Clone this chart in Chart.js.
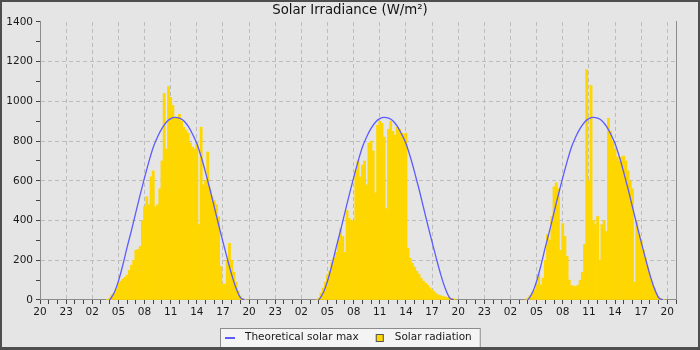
<!DOCTYPE html>
<html><head><meta charset="utf-8">
<script src="https://cdn.jsdelivr.net/npm/chart.js@4.4.1/dist/chart.umd.min.js"></script>
<style>html,body{margin:0;padding:0;background:#e5e5e5}canvas{display:block}</style>
</head><body>
<canvas id="c" width="700" height="350"></canvas>
<script>
// ---- data ----
const titleText = 'Solar Irradiance (W/m²)';
const seriesNames = ['Theoretical solar max', 'Solar radiation'];
// x axis: hours since 20:00 on the evening before day 1
const xTickLabels = ['20','23','02','05','08','11','14','17','20','23','02','05','08','11','14','17','20','23','02','05','08','11','14','17','20'];
const dayMidnights = [4, 28, 52];          // hour position of 00:00 of each day
// solar radiation, 15-minute slots from 03:45 to 19:45 each day (W/m²)
const radSlotStart = 3.75, radSlotStep = 0.25;
const radDay1 = [3,10,25,35,55, 85,95,105,115, 125,150,175,200, 250,255,270,400, 470,520,480,620, 650,470,480,560, 700,1040,760,1075, 1020,980,920,920, 935,900,870,855, 840,790,770,760, 800,380,870,580, 600,745,560,520, 500,480,420,170, 80,80,200,285, 200,140,90,45, 20,8,4,0];
const radDay2 = [0,10,35,60,90, 125,145,190,210, 240,300,360,320, 240,450,410,400, 400,650,700,620, 680,700,580,790, 800,750,540,880, 900,890,820,460, 860,900,850,830, 870,860,840,835, 840,260,210,185, 165,145,130,110, 95,85,75,62, 52,42,32,25, 22,18,15,13, 10,8,6,0];
const radDay3 = [0,10,22,40,50, 75,130,75,110, 200,330,300,420, 570,590,560,250, 385,320,220,100, 72,70,68,75, 100,140,280,1160, 600,1080,400,380, 420,200,380,400, 345,915,850,800, 760,720,700,720, 725,700,650,600, 560,90,400,330, 300,250,210,165, 125,90,60,35, 18,8,3,0];
// theoretical solar max, 30-minute points from 04:00 to 19:30 (same each day)
const maxSlotStart = 4.0, maxSlotStep = 0.5;
const theoMax = [0,35,95,175,266,351,441,531,616,697,769,822,864,895,913,920,916,903,875,836,788,721,643,559,469,379,293,208,128,60,12,0];

// ---- build library data ----
const barPoints = [];
[radDay1, radDay2, radDay3].forEach((arr, d) => {
  arr.forEach((v, i) => barPoints.push({x: dayMidnights[d] + radSlotStart + i * radSlotStep, y: v}));
});
const linePoints = [];
dayMidnights.forEach((m, d) => {
  theoMax.forEach((v, i) => linePoints.push({x: m + maxSlotStart + i * maxSlotStep, y: v}));
  if (d < dayMidnights.length - 1) linePoints.push({x: m + 22, y: null});
});

const FONT = 'DejaVu Sans';
const decor = {
  id: 'decor',
  beforeDraw(chart) {
    const {ctx, width, height} = chart;
    ctx.save(); ctx.fillStyle = '#e5e5e5'; ctx.fillRect(0, 0, width, height); ctx.restore();
  },
  afterDraw(chart) {
    const {ctx} = chart;
    ctx.save();
    // legend
    ctx.font = '10.5px "' + FONT + '"';
    const ds = chart.data.datasets;
    const w1 = ctx.measureText(ds[0].label).width, w2 = ctx.measureText(ds[1].label).width;
    const total = 70 + w1 + w2;
    const L = Math.round(350 - total / 2), T = 328, H = 19;
    ctx.fillStyle = '#f4f4f4'; ctx.fillRect(L, T, total, H);
    ctx.strokeStyle = '#8c8c8c'; ctx.lineWidth = 1; ctx.strokeRect(L + 0.5, T + 0.5, total - 1, H);
    const cy = T + 10;
    ctx.strokeStyle = ds[0].borderColor; ctx.lineWidth = 2;
    ctx.beginPath(); ctx.moveTo(L + 5, cy); ctx.lineTo(L + 15, cy); ctx.stroke();
    ctx.fillStyle = '#1a1a1a'; ctx.textBaseline = 'middle'; ctx.textAlign = 'left';
    ctx.fillText(ds[0].label, L + 25, cy - 0.5);
    const sx = L + 25 + w1 + 17;
    ctx.fillStyle = ds[1].backgroundColor; ctx.fillRect(sx, cy - 4, 8, 8);
    ctx.strokeStyle = '#555'; ctx.lineWidth = 1; ctx.strokeRect(sx + 0.5, cy - 3.5, 7, 7);
    ctx.fillStyle = '#1a1a1a';
    ctx.fillText(ds[1].label, sx + 19, cy - 0.5);
    // outer frame
    ctx.fillStyle = '#4e4e4e';
    ctx.fillRect(0, 0, 700, 2); ctx.fillRect(0, 0, 2, 350); ctx.fillRect(698, 0, 2, 350); ctx.fillRect(0, 347, 700, 3);
    ctx.restore();
  }
};

new Chart(document.getElementById('c'), {
  type: 'bar',
  data: {
    datasets: [
      {type: 'line', label: seriesNames[0], data: linePoints, borderColor: '#5c5cff', borderWidth: 1.3,
       pointRadius: 0, spanGaps: false, cubicInterpolationMode: 'monotone', fill: false},
      {type: 'bar', label: seriesNames[1], data: barPoints, backgroundColor: '#ffd700', borderWidth: 0,
       barPercentage: 1, categoryPercentage: 1}
    ]
  },
  options: {
    responsive: false, animation: false, devicePixelRatio: 1,
    layout: {padding: 0},
    plugins: {
      legend: {display: false}, tooltip: {enabled: false},
      title: {display: true, text: titleText, color: '#111',
              font: {family: FONT, size: 13.3, weight: 'normal', lineHeight: 1.2}, padding: {top: 3, bottom: 3}}
    },
    scales: {
      x: {
        type: 'linear', min: 0, max: 73, offset: false,
        afterFit: s => { s.height = 50; },
        afterBuildTicks: s => { s.ticks = Array.from({length: 74}, (_, i) => ({value: i})); },
        ticks: {autoSkip: false, maxRotation: 0, minRotation: 0, color: '#1a1a1a', padding: 2,
                font: {family: FONT, size: 10.5},
                callback: v => (v % 3 === 0 ? xTickLabels[v / 3] : '')},
        grid: {offset: false,
               color: c => (c.tick && c.tick.value % 3 === 0 && c.tick.value > 0 ? '#bcbcbc' : 'rgba(0,0,0,0)'),
               tickColor: '#444', tickLength: 4, lineWidth: 1},
        border: {color: '#8c8c8c', width: 1, dash: [4, 3]}
      },
      y: {
        min: 0, max: 1400,
        afterFit: s => { s.width = 40; },
        afterBuildTicks: s => { s.ticks = Array.from({length: 15}, (_, i) => ({value: i * 100})); },
        ticks: {color: '#1a1a1a', padding: 3, font: {family: FONT, size: 10.5},
                callback: v => (v % 200 === 0 ? String(v) : '')},
        grid: {color: c => (c.tick && c.tick.value % 200 === 0 && c.tick.value > 0 && c.tick.value < 1400 ? '#bcbcbc' : 'rgba(0,0,0,0)'),
               tickColor: '#444', tickLength: 4, lineWidth: 1},
        border: {color: '#8c8c8c', width: 1, dash: [4, 3]}
      },
      yRight: {
        position: 'right', min: 0, max: 1400,
        afterFit: s => { s.width = 24; },
        ticks: {display: false},
        grid: {display: false, drawTicks: false},
        border: {display: true, color: '#8c8c8c', width: 1}
      }
    }
  },
  plugins: [decor]
});
</script>
</body></html>
